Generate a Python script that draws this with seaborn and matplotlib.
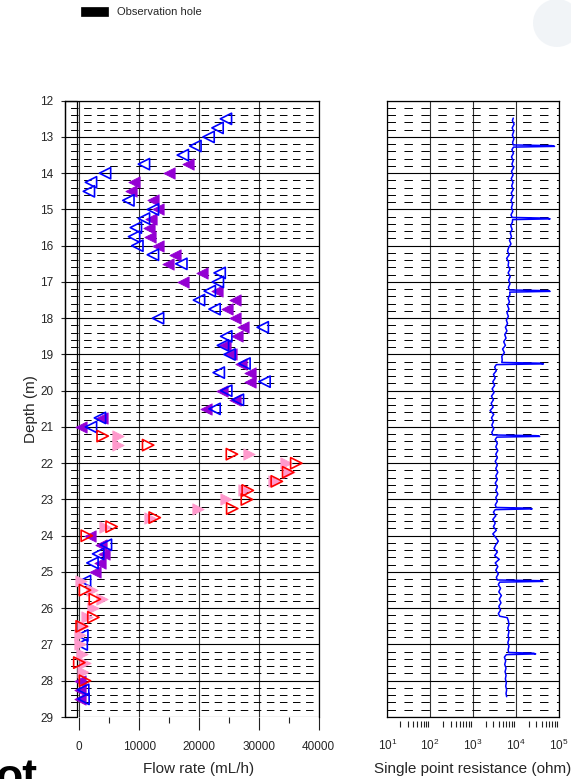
import numpy as np
import pandas as pd
import matplotlib
matplotlib.use("Agg")
import matplotlib.pyplot as plt
import matplotlib.transforms as mtransforms
from matplotlib.patches import Rectangle, Ellipse
from matplotlib.ticker import MultipleLocator, FixedLocator, NullLocator
import seaborn as sns

# ---------------- data ----------------
blue_depth = [12.5, 12.75, 13.0, 13.25, 13.5, 13.75, 14.0, 14.25, 14.5, 14.75,
              15.0, 15.25, 15.5, 15.75, 16.0, 16.25, 16.5, 16.75, 17.0, 17.25,
              17.5, 17.75, 18.0, 18.25, 18.5, 18.75, 19.0, 19.25, 19.5, 19.75,
              20.0, 20.25, 20.5, 20.75, 21.0,
              24.25, 24.5, 24.75, 25.25, 26.75, 27.0, 28.25, 28.5]
blue_flow = [24500, 23100, 21600, 19400, 17300, 10800, 4300, 1950, 1600, 8200,
             12300, 10800, 9450, 9150, 9700, 12300, 17050, 23450, 23150, 21800,
             20000, 22600, 13150, 30650, 24550, 24000, 25100, 27600, 23300, 30950,
             24550, 26500, 22600, 3450, 1950,
             4450, 3150, 2200, 950, 500, 400, 650, 700]

purple_depth = [13.75, 14.0, 14.25, 14.5, 14.75, 15.0, 15.25, 15.5, 15.75, 16.0,
                16.25, 16.5, 16.75, 17.0, 17.25, 17.5, 17.75, 18.0, 18.25, 18.5,
                18.75, 19.0, 19.25, 19.5, 19.75, 20.0, 20.25, 20.5, 20.75, 21.0,
                24.0, 24.25, 24.5, 24.75, 25.0, 28.0, 28.25, 28.5]
purple_flow = [18150, 15000, 9150, 8600, 12300, 13150, 12050, 11650, 11800, 13150,
               16050, 14850, 20550, 17350, 23050, 26050, 24650, 25950, 27350, 26350,
               24300, 25400, 27050, 28450, 28450, 23900, 25950, 21100, 3750, 250,
               1800, 3550, 4100, 3400, 2700, 150, 100, 150]

red_depth = [21.25, 21.5, 21.75, 22.0, 22.25, 22.5, 22.75, 23.0, 23.25, 23.5,
             23.75, 24.0, 25.5, 25.75, 26.25, 26.5, 27.5, 28.0]
red_flow = [3900, 11500, 25500, 36250, 34900, 33000, 28150, 28000, 25550, 12600,
            5400, 1250, 950, 2600, 2350, 400, 0, 950]

pink_depth = [21.25, 21.5, 21.75, 22.0, 22.25, 22.5, 22.75, 23.0, 23.25, 23.5,
              23.75, 25.25, 25.5, 25.75, 26.0, 26.25, 26.5, 26.75, 27.0, 27.25,
              27.5, 27.75]
pink_flow = [6500, 6500, 28300, 34550, 35100, 32600, 27600, 24550, 19850, 11800,
             4300, 200, 2100, 3750, 2350, 1250, 650, 150, 150, 400,
             950, 650]

res_depth = [12.48, 12.55, 12.65, 12.75, 12.85, 12.95, 13.05, 13.15, 13.22,
             13.24, 13.26, 13.28,
             13.35, 13.45, 13.55, 13.65, 13.75, 13.85, 13.95, 14.05, 14.15, 14.25,
             14.35, 14.45, 14.55, 14.65, 14.75, 14.85, 14.95, 15.05, 15.15, 15.22,
             15.24, 15.26, 15.28,
             15.35, 15.45, 15.55, 15.65, 15.75, 15.85, 15.95, 16.05, 16.15, 16.25,
             16.35, 16.45, 16.55, 16.65, 16.75, 16.85, 16.95, 17.05, 17.15, 17.22,
             17.24, 17.26, 17.28,
             17.35, 17.45, 17.55, 17.65, 17.75, 17.85, 17.95, 18.05, 18.15, 18.25,
             18.35, 18.45, 18.55, 18.65, 18.75, 18.85, 18.95, 19.05, 19.15, 19.22,
             19.24, 19.26, 19.28,
             19.35, 19.45, 19.55, 19.65, 19.75, 19.85, 19.95, 20.05, 20.15, 20.25,
             20.35, 20.45, 20.55, 20.65, 20.75, 20.85, 20.95, 21.05, 21.15, 21.22,
             21.24, 21.26, 21.28,
             21.35, 21.45, 21.55, 21.65, 21.75, 21.85, 21.95, 22.05, 22.15, 22.25,
             22.35, 22.45, 22.55, 22.65, 22.75, 22.85, 22.95, 23.05, 23.15, 23.22,
             23.24, 23.26, 23.28,
             23.35, 23.45, 23.55, 23.65, 23.75, 23.85, 23.95, 24.05, 24.15, 24.25,
             24.35, 24.45, 24.55, 24.65, 24.75, 24.85, 24.95, 25.05, 25.15, 25.22,
             25.24, 25.26, 25.28,
             25.35, 25.45, 25.55, 25.65, 25.75, 25.85, 25.95, 26.05, 26.15, 26.22,
             26.26, 26.35, 26.45, 26.55, 26.65, 26.75, 26.85, 26.95, 27.05, 27.15,
             27.22,
             27.24, 27.26, 27.28,
             27.35, 27.45, 27.55, 27.65, 27.75, 27.85, 27.95, 28.05, 28.15, 28.25,
             28.35, 28.44]
res_ohm = [8700, 8300, 9100, 8200, 8900, 8300, 9000, 8400, 8700,
           70000, 80000, 8800,
           8100, 8800, 7900, 8700, 8100, 8900, 7900, 8600, 7800, 8600,
           8000, 8700, 7800, 8500, 7700, 8400, 7900, 8500, 7700, 8200,
           55000, 63000, 8400,
           8300, 7600, 8200, 7400, 7900, 7100, 7700, 6800, 6400, 7000,
           6100, 6800, 6600, 7300, 6600, 7400, 6800, 7300, 6700, 7100,
           55000, 63000, 7200,
           7300, 6600, 7100, 6400, 6900, 6200, 6700, 6000, 6400, 5700,
           6200, 5500, 5900, 5200, 5700, 4900, 5400, 4700, 4800, 4700,
           38000, 44000, 3500,
           3200, 3500, 3000, 3300, 2900, 3200, 2800, 3100, 2700, 3000,
           2650, 2950, 2500, 3050, 2700, 3000, 2750, 3050, 2750, 2900,
           30000, 36000, 3600,
           3300, 3700, 3400, 3800, 3400, 3700, 3300, 3700, 3400, 3800,
           3400, 3700, 3300, 3700, 3400, 3800, 3400, 3700, 3300, 3500,
           21000, 24000, 3300,
           3000, 3400, 2900, 3300, 3000, 3500, 2900, 3400, 3900, 3400,
           3100, 3700, 3200, 4100, 3300, 3800, 3400, 3900, 3500, 3700,
           38000, 43000, 4200,
           3900, 4400, 4000, 4600, 4100, 4500, 4000, 4400, 3900, 4200,
           6300, 6700, 6900, 6500, 6900, 6600, 6900, 6500, 6900, 6600,
           6800,
           26000, 29000, 6000,
           5400, 5800, 5500, 5900, 5600, 5900, 5700, 6000, 5800, 6100,
           5900, 6100]

flow_ticks = [0, 10000, 20000, 30000, 40000]
flow_tick_labels = ["0", "10000", "20000", "30000", "40000"]
res_ticks = [1e1, 1e2, 1e3, 1e4, 1e5]
res_tick_labels = [r"$10^{1}$", r"$10^{2}$", r"$10^{3}$", r"$10^{4}$", r"$10^{5}$"]
depth_ticks = list(range(12, 30))

# ---------------- style ----------------
sns.set_style("white")
plt.rcParams["font.family"] = ["Liberation Sans", "DejaVu Sans"]
plt.rcParams["mathtext.fontset"] = "custom"
plt.rcParams["mathtext.rm"] = "Liberation Sans"
plt.rcParams["mathtext.it"] = "Liberation Sans:italic"
plt.rcParams["mathtext.bf"] = "Liberation Sans:bold"
plt.rcParams["mathtext.default"] = "regular"
plt.rcParams["lines.scale_dashes"] = False

W, H = 571, 779
fig = plt.figure(figsize=(W / 100, H / 100), dpi=100)
fig.patch.set_facecolor("white")


def px_rect(l, t, r, b):
    return [l / W, 1 - b / H, (r - l) / W, (b - t) / H]


ax1 = fig.add_axes(px_rect(65, 100.7, 318.7, 717.0))
ax2 = fig.add_axes(px_rect(387.3, 100.7, 558.7, 717.0))

BLUE = "#0000FF"
PURPLE = "#9400D3"
RED = "#FF0000"
PINK = "#FF99CC"

# ---------------- left panel: flow rate ----------------
ax1.set_xlim(-2390, 40000)
ax1.set_ylim(29, 12)

df_pink = pd.DataFrame({"flow": pink_flow, "depth": pink_depth})
df_red = pd.DataFrame({"flow": red_flow, "depth": red_depth})
df_purple = pd.DataFrame({"flow": purple_flow, "depth": purple_depth})
df_blue = pd.DataFrame({"flow": blue_flow, "depth": blue_depth})

msize = 66
sns.scatterplot(data=df_purple, x="flow", y="depth", ax=ax1, marker="<", s=msize,
                color=PURPLE, edgecolor=PURPLE, linewidth=0.6, zorder=5, clip_on=False)
sns.scatterplot(data=df_blue, x="flow", y="depth", ax=ax1, marker="<", s=msize,
                facecolor="none", edgecolor=BLUE, linewidth=1.2, zorder=6, clip_on=False)
sns.scatterplot(data=df_pink, x="flow", y="depth", ax=ax1, marker=">", s=msize,
                color=PINK, edgecolor=PINK, linewidth=0.6, zorder=7, clip_on=False)
sns.scatterplot(data=df_red, x="flow", y="depth", ax=ax1, marker=">", s=msize,
                facecolor="none", edgecolor=RED, linewidth=1.2, zorder=8, clip_on=False)

# observation-hole column outline
ax1.add_patch(Rectangle((-2390, 12), 2390 - 435, 17, fill=False, ec="black",
                        lw=0.9, zorder=4, clip_on=False))

ax1.set_xticks(flow_ticks)
ax1.set_xticklabels(flow_tick_labels)
ax1.xaxis.set_minor_locator(FixedLocator([5000, 15000, 25000, 35000]))
ax1.set_yticks(depth_ticks)
ax1.set_yticklabels([str(d) for d in depth_ticks])
ax1.yaxis.set_minor_locator(MultipleLocator(0.2))

ax1.tick_params(axis="x", which="major", direction="out", length=9.5, width=0.8,
                color="#222222", labelsize=8.5, pad=8, bottom=True, top=False)
ax1.tick_params(axis="x", which="minor", direction="out", length=4, width=0.8,
                color="#222222", bottom=True, top=False)
ax1.tick_params(axis="y", which="major", direction="out", length=3, width=0.8,
                color="#222222", labelsize=8.5, pad=5.5, left=True, right=False)
ax1.tick_params(axis="y", which="minor", length=0, left=False, right=False)

ax1.grid(which="major", axis="x", color="#333333", lw=0.8, zorder=1)
ax1.grid(which="major", axis="y", color="black", lw=0.8, zorder=1)
ax1.grid(which="minor", axis="y", color="black", lw=0.7,
         linestyle=(5.4, (5.4, 4.0)), zorder=1)
ax1.set_axisbelow(True)

for side in ["left", "top", "right"]:
    ax1.spines[side].set_visible(True)
    ax1.spines[side].set_color("black")
    ax1.spines[side].set_linewidth(0.9)
ax1.spines["bottom"].set_visible(False)

ax1.set_xlabel("Flow rate (mL/h)", fontsize=11)
ax1.xaxis.set_label_coords((199 - 65) / (318.7 - 65), -0.073)
ax1.set_ylabel("Depth (m)", fontsize=11)
ax1.yaxis.set_label_coords(-0.108, 0.5)

# ---------------- right panel: single point resistance ----------------
ax2.set_xscale("log")
ax2.set_xlim(1e1, 1e5)
ax2.set_ylim(29, 12)

df_res = pd.DataFrame({"res": res_ohm, "depth": res_depth})
sns.lineplot(data=df_res, x="res", y="depth", ax=ax2, sort=False, estimator=None,
             color=BLUE, lw=1.1, zorder=5)

ax2.set_xticks(res_ticks)
ax2.set_xticklabels(res_tick_labels)
ax2.xaxis.set_minor_locator(NullLocator())
ax2.set_yticks(depth_ticks)
ax2.yaxis.set_minor_locator(MultipleLocator(0.2))
ax2.tick_params(axis="y", which="both", length=0, labelleft=False)
ax2.tick_params(axis="x", which="major", direction="out", length=10, width=0.8,
                color="#222222", labelsize=8.5, pad=5)

ax2.grid(which="major", axis="x", color="#333333", lw=0.8, zorder=1)
ax2.grid(which="major", axis="y", color="black", lw=0.8, zorder=1)
ax2.grid(which="minor", axis="y", color="black", lw=0.7,
         linestyle=(0, (6.1, 6.1)), zorder=1)
ax2.set_axisbelow(True)
for side in ["left", "top", "right", "bottom"]:
    ax2.spines[side].set_visible(True)
    ax2.spines[side].set_color("black")
    ax2.spines[side].set_linewidth(0.9)

# detached minor ticks below the log axis
trans = mtransforms.blended_transform_factory(ax2.transData, ax2.transAxes)
ax_h = 717.0 - 100.7
for dec in [1e1, 1e2, 1e3, 1e4]:
    for k in range(2, 10):
        ax2.plot([k * dec, k * dec], [-4 / ax_h, -9.5 / ax_h], transform=trans,
                 color="#222222", lw=0.8, clip_on=False, solid_capstyle="butt")

ax2.set_xlabel("Single point resistance (ohm)", fontsize=11)
ax2.xaxis.set_label_coords(0.5, -0.073)
ax2.set_ylabel("")

# ---------------- legend & decorations ----------------
fig.patches.append(Rectangle((81 / W, 1 - 15.7 / H), 26.5 / W, 8.4 / H,
                             transform=fig.transFigure, facecolor="black",
                             edgecolor="black", lw=0.5))
fig.text(117 / W, 1 - 12 / H, "Observation hole", fontsize=8,
         ha="left", va="center")

fig.patches.append(Ellipse((557 / W, 1 - 23 / H), 48 / W, 48 / H,
                           transform=fig.transFigure, facecolor="#eef2f6",
                           edgecolor="none", alpha=0.8))

fig.text(37 / W, 1 - 790 / H, "ot", fontsize=32, fontweight="bold",
         ha="right", va="baseline", color="black")

fig.savefig("out.png", dpi=100)
